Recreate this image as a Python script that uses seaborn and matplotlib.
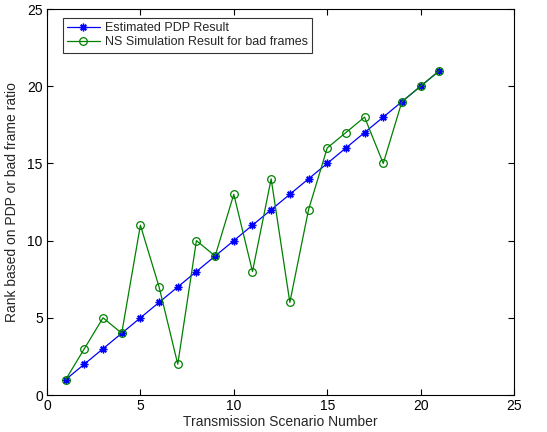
import matplotlib
matplotlib.use("Agg")
import matplotlib.pyplot as plt
import seaborn as sns
import pandas as pd

scenario = list(range(1, 22))
pdp_rank = [1, 2, 3, 4, 5, 6, 7, 8, 9, 10, 11, 12, 13, 14, 15, 16, 17, 18, 19, 20, 21]
ns_rank = [1, 3, 5, 4, 11, 7, 2, 10, 9, 13, 8, 14, 6, 12, 16, 17, 18, 15, 19, 20, 21]

sns.set_style("white")
plt.rcParams['font.family'] = ['Liberation Sans', 'DejaVu Sans']

df_pdp = pd.DataFrame({"x": scenario, "y": pdp_rank})
df_ns = pd.DataFrame({"x": scenario, "y": ns_rank})

fig = plt.figure(figsize=(5.47, 4.32), dpi=100)
ax = fig.add_axes([0.0859, 0.0856, 0.8538, 0.8935])

sns.lineplot(data=df_pdp, x="x", y="y", ax=ax, color="#0000ff", lw=0.9,
             marker=(8, 2, 0), markersize=5.5, markeredgecolor="#0000ff",
             markeredgewidth=1.0, label="Estimated PDP Result")
sns.lineplot(data=df_ns, x="x", y="y", ax=ax, color="#008000", lw=0.9,
             marker="o", markersize=5.5, markeredgecolor="#008000",
             markerfacecolor="none", markeredgewidth=0.9,
             label="NS Simulation Result for bad frames")

ax.set_xlim(0, 25)
ax.set_ylim(0, 25)
ax.set_xticks([0, 5, 10, 15, 20, 25])
ax.set_yticks([0, 5, 10, 15, 20, 25])
ax.tick_params(direction="in", length=4, width=0.8, labelsize=10, pad=3,
               top=True, right=True, bottom=True, left=True, colors="black")
for s in ax.spines.values():
    s.set_visible(True)
    s.set_color("black")
    s.set_linewidth(0.8)

ax.set_xlabel("Transmission Scenario Number", fontsize=10, labelpad=1)
ax.set_ylabel("Rank based on PDP or bad frame ratio", fontsize=10, labelpad=6)

leg = ax.legend(loc="upper left", bbox_to_anchor=(0.034, 0.977), fontsize=9,
                frameon=True, fancybox=False, edgecolor="black",
                borderpad=0.35, labelspacing=0.15, handlelength=2.6,
                handletextpad=0.4, borderaxespad=0)
leg.get_frame().set_linewidth(0.8)

fig.savefig("out.png", dpi=100)
